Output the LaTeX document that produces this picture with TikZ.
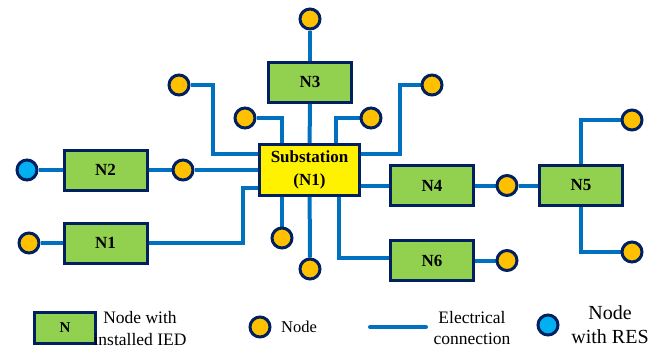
\documentclass[tikz,border=0pt]{standalone}
\usepackage{fontspec}
\setmainfont{Liberation Serif}
\usetikzlibrary{backgrounds}
\definecolor{wireblue}{HTML}{0070C0}
\definecolor{navy}{HTML}{002060}
\definecolor{iedgreen}{HTML}{92D050}
\definecolor{orng}{HTML}{FFC000}
\definecolor{resblue}{HTML}{00B0F0}
\tikzset{
  ied/.style={draw=navy, line width=3pt, fill=iedgreen, minimum width=83pt, minimum height=40pt, inner sep=0pt, font=\fontsize{17}{20}\selectfont\bfseries},
  subst/.style={draw=navy, line width=3pt, fill=yellow, minimum width=100pt, minimum height=51pt, align=center, inner sep=0pt, font=\fontsize{17}{23}\selectfont\bfseries},
  dot/.style={circle, draw=navy, line width=3pt, fill=orng, minimum size=20pt, inner sep=0pt},
  resdot/.style={dot, fill=resblue},
  wire/.style={draw=wireblue, line width=4pt},
  lbl/.style={align=center, inner sep=0pt},
}
\begin{document}
\begin{tikzpicture}[x=1pt,y=-1pt]
\path[use as bounding box] (0,0) rectangle (662,349);
% main nodes
\node[subst] (S) at (309.5,170) {Substation\\(N1)};
\node[ied] (N3) at (310,82) {N3};
\node[ied] (N2) at (105.5,170) {N2};
\node[ied] (N1) at (105.5,243) {N1};
\node[ied] (N4) at (432,185.5) {N4};
\node[ied] (N5) at (581,185.5) {N5};
\node[ied] (N6) at (432,260.5) {N6};
% plain nodes
\node[dot] (c1) at (310,19) {};
\node[dot] (c2) at (179,85) {};
\node[dot] (c3) at (245,118) {};
\node[dot] (c4) at (371,118) {};
\node[dot] (c5) at (432,85) {};
\node[dot] (c6) at (183,170) {};
\node[resdot] (r1) at (27,170) {};
\node[dot] (c7) at (29,243) {};
\node[dot] (c8) at (282,238) {};
\node[dot] (c9) at (310,269) {};
\node[dot] (c10) at (507,185.5) {};
\node[dot] (c11) at (632,120) {};
\node[dot] (c12) at (632,252) {};
\node[dot] (c13) at (507,260.5) {};
% bend points
\coordinate (b2) at (213,154);
\coordinate (b3) at (282,118);
\coordinate (b4) at (336,118);
\coordinate (b5) at (400,154);
\coordinate (b1) at (243,188);
\coordinate (b6) at (339,258);
\coordinate (b11) at (581,120);
\coordinate (b12) at (581,252);
\begin{scope}[on background layer]
\draw[wire] (c1) -- (N3);
\draw[wire] (N3) -- (S);
\draw[wire] (c2) -| (b2) -- (b2 -| S.west);
\draw[wire] (c3) -- (b3) -- (b3 |- S.north);
\draw[wire] (c4) -- (b4) -- (b4 |- S.north);
\draw[wire] (c5) -| (b5) -- (b5 -| S.east);
\draw[wire] (r1) -- (N2);
\draw[wire] (N2) -- (c6);
\draw[wire] (c6) -- (S);
\draw[wire] (c7) -- (N1);
\draw[wire] (N1) -| (b1) -- (b1 -| S.west);
\draw[wire] (c8 |- S.south) -- (c8);
\draw[wire] (S) -- (c9);
\draw[wire] (b6 |- S.south) -- (b6) -- (b6 -| N6.west);
\draw[wire] (S.east |- N4) -- (N4);
\draw[wire] (N4) -- (c10);
\draw[wire] (c10) -- (N5);
\draw[wire] (N5) -- (b11) -- (c11);
\draw[wire] (N5) -- (b12) -- (c12);
\draw[wire] (N6) -- (c13);
\end{scope}
% legend
\node[ied, minimum width=61pt, minimum height=31pt, font=\fontsize{15}{18}\selectfont\bfseries] (LN) at (65,328) {N};
\node[lbl, font=\fontsize{17.5}{22}\selectfont] (LNt) at (140,329) {Node with\\installed IED};
\node[dot] (Lc) at (260,327) {};
\node[lbl, anchor=west, font=\fontsize{16.5}{20}\selectfont] (Lct) at (281,327) {Node};
\coordinate (La) at (370,327);
\coordinate (Lb) at (426,327);
\draw[wire, line cap=round] (La) -- (Lb);
\node[lbl, font=\fontsize{17.5}{21}\selectfont] (Lwt) at (472,328) {Electrical\\connection};
\node[resdot] (Lr) at (548,325) {};
\node[lbl, font=\fontsize{20}{24}\selectfont] (Lrt) at (610,325) {Node\\with RES};
\end{tikzpicture}
\end{document}
